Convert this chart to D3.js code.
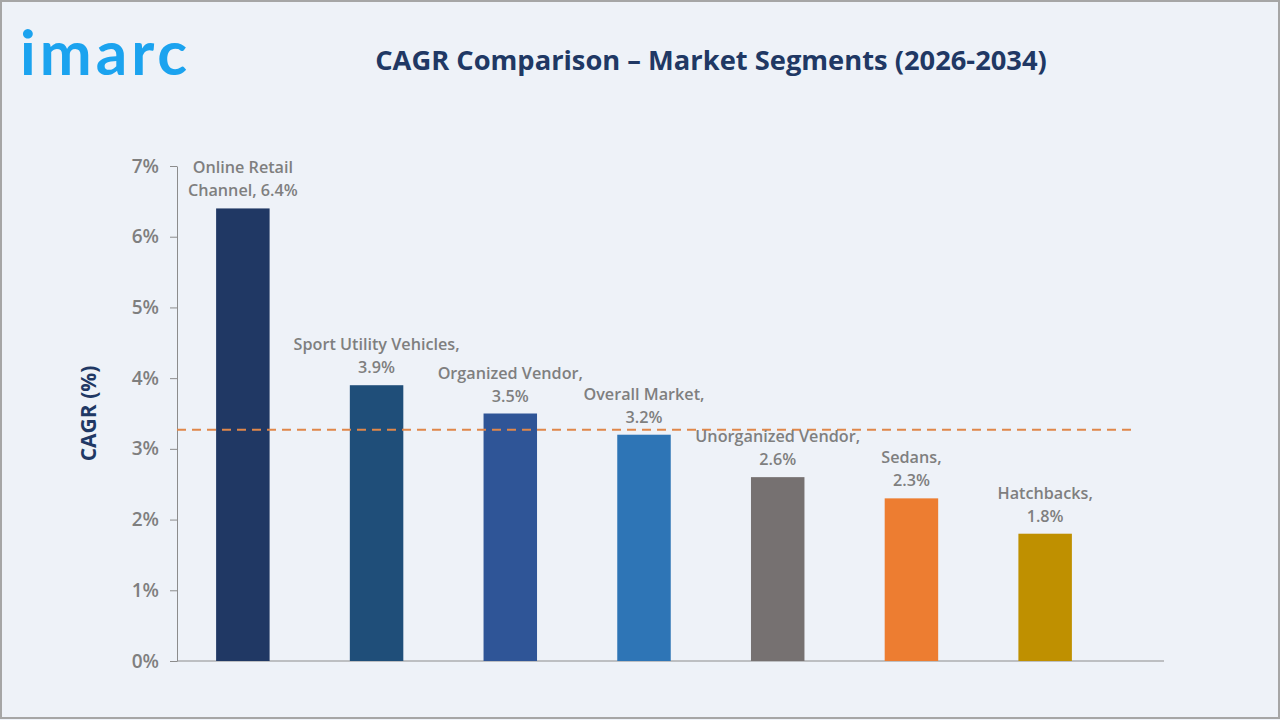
<!DOCTYPE html>
<html>
<head>
<meta charset="utf-8">
<script src="https://cdn.jsdelivr.net/npm/d3@7"></script>
<style>
  html, body { margin: 0; padding: 0; background: #eef2f8; }
  svg { display: block; font-family: "Open Sans", "Noto Sans", sans-serif; }
</style>
</head>
<body>
<svg id="chart" width="1280" height="720"></svg>
<script>
// ── data ──
const categories = ["Online Retail Channel", "Sport Utility Vehicles", "Organized Vendor",
                    "Overall Market", "Unorganized Vendor", "Sedans", "Hatchbacks"];
const cagrValues = [6.4, 3.9, 3.5, 3.2, 2.6, 2.3, 1.8];
// how each label's name part is broken over the two lines
const labelFirstLines = ["Online Retail", "Sport Utility Vehicles,", "Organized Vendor,",
                         "Overall Market,", "Unorganized Vendor,", "Sedans,", "Hatchbacks,"];
const labelSecondPrefix = ["Channel, ", "", "", "", "", "", ""];
const barColours = ["#203864", "#1f4e79", "#2f5597", "#2e75b6", "#767171", "#ed7d31", "#bf9000"];
const yTicks = [0, 1, 2, 3, 4, 5, 6, 7];
const referenceLine = 3.27;

const svg = d3.select("#chart");

// Frame
svg.append("rect")
  .attr("x", 1).attr("y", 1).attr("width", 1278).attr("height", 717)
  .attr("fill", "#eef2f8").attr("stroke", "#a6a6a6").attr("stroke-width", 2);

// Logo
svg.append("text")
  .attr("x", 20).attr("y", 75)
  .attr("font-family", "Lato, 'Noto Sans', sans-serif")
  .attr("font-size", 62).attr("font-weight", 700)
  .attr("fill", "#1ba3ef")
  .attr("letter-spacing", 4)
  .text("imarc");

// Title
svg.append("text")
  .attr("x", 711).attr("y", 70)
  .attr("text-anchor", "middle")
  .attr("font-size", 27.3).attr("font-weight", 700)
  .attr("fill", "#203864")
  .text("CAGR Comparison – Market Segments (2026-2034)");

// Scales
const AXIS_X = 177, AXIS_END = 1164;
const x = d3.scaleBand().domain(categories).range([176, 1112]).paddingInner(0.6).paddingOuter(0.3);
const y = d3.scaleLinear().domain([0, 7]).range([661, 166]);

// Y axis
const yAxis = svg.append("g")
  .attr("transform", `translate(${AXIS_X},0)`)
  .call(d3.axisLeft(y).tickValues(yTicks).tickFormat(d => d + "%").tickSize(7).tickSizeOuter(0));
yAxis.select(".domain").attr("stroke", "#8c8c8c");
yAxis.selectAll(".tick line").attr("stroke", "#8c8c8c");
yAxis.selectAll(".tick text")
  .attr("x", -18)
  .attr("font-size", 19).attr("font-weight", 600)
  .attr("font-family", "'Open Sans', sans-serif")
  .attr("fill", "#7f7f7f");

// X axis baseline
svg.append("line")
  .attr("x1", AXIS_X).attr("x2", AXIS_END)
  .attr("y1", y(0)).attr("y2", y(0))
  .attr("stroke", "#8c8c8c").attr("stroke-width", 1.2);

// Y axis title
svg.append("text")
  .attr("transform", `translate(96,${y(3.5)}) rotate(-90)`)
  .attr("text-anchor", "middle")
  .attr("font-size", 21).attr("font-weight", 700)
  .attr("fill", "#203864")
  .text("CAGR (%)");

// Bars
svg.selectAll(".bar").data(categories).enter().append("rect")
  .attr("class", "bar")
  .attr("x", d => x(d))
  .attr("width", x.bandwidth())
  .attr("y", (d, i) => y(cagrValues[i]))
  .attr("height", (d, i) => y(0) - y(cagrValues[i]))
  .attr("fill", (d, i) => barColours[i]);

// Reference dashed line
svg.append("line")
  .attr("x1", AXIS_X).attr("x2", 1135)
  .attr("y1", y(referenceLine)).attr("y2", y(referenceLine))
  .attr("stroke", "#e0874a").attr("stroke-width", 2)
  .attr("stroke-dasharray", "9,6");

// Data labels
const labels = svg.selectAll(".bar-label").data(categories).enter().append("text")
  .attr("class", "bar-label")
  .attr("text-anchor", "middle")
  .attr("font-size", 16.2).attr("font-weight", 600)
  .attr("fill", "#7f7f7f");

labels.append("tspan")
  .attr("x", d => x(d) + x.bandwidth() / 2)
  .attr("y", (d, i) => y(cagrValues[i]) - 35)
  .text((d, i) => labelFirstLines[i]);

labels.append("tspan")
  .attr("x", d => x(d) + x.bandwidth() / 2)
  .attr("y", (d, i) => y(cagrValues[i]) - 12)
  .text((d, i) => labelSecondPrefix[i] + cagrValues[i].toFixed(1) + "%");
</script>
</body>
</html>
